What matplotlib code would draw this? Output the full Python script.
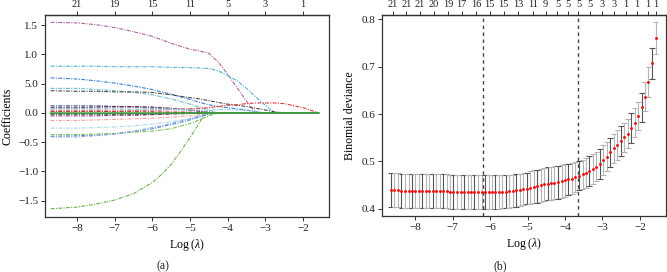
import numpy as np
import matplotlib
matplotlib.use("Agg")
import matplotlib.pyplot as plt

plt.rcParams['font.family'] = ['Liberation Serif', 'DejaVu Serif']
plt.rcParams['axes.unicode_minus'] = True
plt.rcParams['mathtext.fontset'] = 'custom'
plt.rcParams['mathtext.rm'] = 'Liberation Serif'
plt.rcParams['mathtext.it'] = 'Liberation Serif:italic'

# ---------------- Panel (a): coefficient paths ----------------
knots = [-8.7, -8.0, -7.5, -7.0, -6.5, -6.0, -5.5, -5.0, -4.75, -4.5,
         -4.25, -4.0, -3.75, -3.5, -3.25, -3.0, -2.75, -2.5, -2.0, -1.58]

coef_paths = {
    "v1":  [1.55, 1.54, 1.51, 1.46, 1.39, 1.31, 1.19, 1.09, 1.06, 1.02, 0.87, 0.66, 0.43, 0.20, 0.0, 0, 0, 0, 0, 0],
    "v2":  [0.80, 0.80, 0.80, 0.79, 0.79, 0.79, 0.78, 0.775, 0.77, 0.76, 0.72, 0.64, 0.55, 0.42, 0.27, 0.13, 0.0, 0, 0, 0],
    "v3":  [0.60, 0.58, 0.55, 0.51, 0.46, 0.40, 0.32, 0.23, 0.18, 0.14, 0.11, 0.09, 0.07, 0.05, 0.02, 0, 0, 0, 0, 0],
    "v4":  [0.42, 0.42, 0.40, 0.38, 0.35, 0.31, 0.24, 0.15, 0.10, 0.05, 0.0, 0, 0, 0, 0, 0, 0, 0, 0, 0],
    "v5":  [0.38, 0.37, 0.37, 0.36, 0.36, 0.35, 0.31, 0.26, 0.24, 0.21, 0.18, 0.15, 0.13, 0.11, 0.08, 0.05, 0.02, 0.0, 0, 0],
    "v6":  [0.12, 0.12, 0.12, 0.11, 0.10, 0.09, 0.07, 0.05, 0.03, 0.01, 0, 0, 0, 0, 0, 0, 0, 0, 0, 0],
    "v7":  [0.09, 0.09, 0.10, 0.11, 0.11, 0.10, 0.08, 0.05, 0.03, 0.01, 0, 0, 0, 0, 0, 0, 0, 0, 0, 0],
    "v8":  [0.02, 0.02, 0.03, 0.03, 0.04, 0.05, 0.06, 0.07, 0.08, 0.09, 0.11, 0.13, 0.14, 0.16, 0.17, 0.17, 0.17, 0.16, 0.09, 0.0],
    "v9":  [0.05, 0.05, 0.05, 0.05, 0.05, 0.04, 0.03, 0.02, 0.01, 0, 0, 0, 0, 0, 0, 0, 0, 0, 0, 0],
    "v11": [-0.05, -0.05, -0.05, -0.04, -0.04, -0.03, -0.02, -0.01, 0, 0, 0, 0, 0, 0, 0, 0, 0, 0, 0, 0],
    "v12": [-0.13, -0.13, -0.12, -0.11, -0.10, -0.09, -0.07, -0.05, -0.03, -0.01, 0, 0, 0, 0, 0, 0, 0, 0, 0, 0],
    "v13": [-0.26, -0.26, -0.25, -0.24, -0.22, -0.19, -0.15, -0.10, -0.06, -0.02, 0, 0, 0, 0, 0, 0, 0, 0, 0, 0],
    "v14": [-0.40, -0.39, -0.38, -0.36, -0.32, -0.27, -0.20, -0.12, -0.07, -0.02, 0, 0, 0, 0, 0, 0, 0, 0, 0, 0],
    "v15": [-0.37, -0.37, -0.36, -0.35, -0.33, -0.31, -0.27, -0.18, -0.12, -0.05, 0, 0, 0, 0, 0, 0, 0, 0, 0, 0],
    "v16": [-0.41, -0.41, -0.39, -0.36, -0.31, -0.25, -0.18, -0.10, -0.05, -0.01, 0, 0, 0, 0, 0, 0, 0, 0, 0, 0],
    "v18": [0.03, 0.03, 0.03, 0.02, 0.02, 0.02, 0.01, 0.0, 0, 0, 0, 0, 0, 0, 0, 0, 0, 0, 0, 0],
    "v19": [0.08, 0.08, 0.08, 0.09, 0.09, 0.08, 0.07, 0.06, 0.04, 0.02, 0, 0, 0, 0, 0, 0, 0, 0, 0, 0],
    "v20": [-0.02, -0.02, -0.02, -0.02, -0.02, -0.02, -0.01, 0, 0, 0, 0, 0, 0, 0, 0, 0, 0, 0, 0, 0],
    "v21": [0.07, 0.07, 0.07, 0.07, 0.06, 0.06, 0.06, 0.05, 0.05, 0.05, 0.06, 0.06, 0.05, 0.04, 0.02, 0, 0, 0, 0, 0],
}
# variable with the large negative path, read on its own finer grid
v17_knots = [-8.7, -8.0, -7.5, -7.0, -6.5, -6.0, -5.75, -5.5, -5.25, -5.0, -4.75, -4.6, -1.58]
v17_vals = [-1.64, -1.61, -1.56, -1.49, -1.38, -1.19, -1.05, -0.88, -0.66, -0.42, -0.17, 0.0, 0.0]
# variable lying on zero throughout
v10_vals = [-0.005, -0.005, -0.005, -0.005, -0.005, -0.005, -0.004, -0.003, -0.002, 0, 0, 0, 0, 0, 0, 0, 0, 0, 0, 0]

path_colors = {
    "v1": "#b0609f", "v2": "#4db4dc", "v3": "#3f7fd2", "v4": "#66bcc6",
    "v5": "#4a4a4a", "v6": "#2b3c8f", "v7": "#5b2a5e", "v8": "#e23a3a",
    "v9": "#f29090", "v10": "#3f9a3f", "v11": "#8a3a8a", "v12": "#f4a3a3",
    "v13": "#a6dbe8", "v14": "#4a92e0", "v15": "#7cbf5a", "v16": "#9ea4d8",
    "v17": "#6cb24c", "v18": "#a83030", "v19": "#9a9a9a", "v20": "#222222",
    "v21": "#8fd0e6",
}
coef_top_ticks = [-8, -7, -6, -5, -4, -3, -2]
coef_top_labels = ["21", "19", "15", "11", "5", "3", "1"]
coef_yticks = [1.5, 1.0, 0.5, 0.0, -0.5, -1.0, -1.5]
coef_yticklabels = ["1.5", "1.0", "5.0", "0.0", "\u22120.5", "\u22121.0", "\u22121.5"]

# ---------------- Panel (b): cross-validation curve ----------------
log_lambda = [
    -8.65, -8.56, -8.46, -8.37, -8.28, -8.18, -8.09, -8.00, -7.91, -7.81,
    -7.72, -7.63, -7.53, -7.44, -7.35, -7.25, -7.16, -7.07, -6.98, -6.88,
    -6.79, -6.70, -6.60, -6.51, -6.42, -6.32, -6.23, -6.14, -6.04, -5.95,
    -5.86, -5.77, -5.67, -5.58, -5.49, -5.39, -5.30, -5.21, -5.11, -5.02,
    -4.93, -4.84, -4.74, -4.65, -4.56, -4.46, -4.37, -4.28, -4.18, -4.09,
    -4.00, -3.91, -3.81, -3.72, -3.63, -3.53, -3.44, -3.35, -3.25, -3.16,
    -3.07, -2.98, -2.88, -2.79, -2.70, -2.60, -2.51, -2.42, -2.32, -2.23,
    -2.14, -2.05, -1.95, -1.86, -1.77, -1.67, -1.58]
cv_mean = [
    0.439, 0.439, 0.439, 0.438, 0.438, 0.438, 0.438, 0.438, 0.437, 0.437,
    0.437, 0.437, 0.437, 0.437, 0.437, 0.437, 0.437, 0.436, 0.436, 0.436,
    0.436, 0.436, 0.436, 0.436, 0.436, 0.435, 0.435, 0.435, 0.435, 0.435,
    0.435, 0.435, 0.436, 0.436, 0.437, 0.438, 0.439, 0.440, 0.442, 0.443,
    0.445, 0.447, 0.448, 0.450, 0.452, 0.453, 0.454, 0.455, 0.456, 0.458,
    0.460, 0.462, 0.464, 0.467, 0.470, 0.473, 0.476, 0.480, 0.484, 0.489,
    0.495, 0.503, 0.510, 0.519, 0.528, 0.535, 0.543, 0.551, 0.559, 0.571,
    0.582, 0.596, 0.614, 0.637, 0.668, 0.707, 0.761]
cv_sd = [
    0.036, 0.036, 0.036, 0.036, 0.036, 0.036, 0.036, 0.036, 0.036, 0.036,
    0.036, 0.036, 0.036, 0.036, 0.036, 0.036, 0.036, 0.036, 0.036, 0.036,
    0.036, 0.036, 0.036, 0.036, 0.036, 0.036, 0.036, 0.036, 0.036, 0.036,
    0.036, 0.036, 0.035, 0.035, 0.035, 0.034, 0.034, 0.033, 0.033, 0.033,
    0.034, 0.034, 0.035, 0.035, 0.035, 0.035, 0.035, 0.035, 0.035, 0.035,
    0.034, 0.033, 0.032, 0.031, 0.031, 0.031, 0.031, 0.031, 0.031, 0.031,
    0.031, 0.031, 0.031, 0.031, 0.031, 0.031, 0.031, 0.031, 0.031, 0.031,
    0.031, 0.030, 0.030, 0.031, 0.032, 0.033, 0.034]
lambda_min = -6.18
lambda_1se = -3.64
cv_top_ticks = [-8.60, -8.24, -7.87, -7.50, -7.13, -6.76, -6.38, -6.01, -5.64, -5.26,
                -4.86, -4.52, -4.20, -3.92, -3.64, -3.32, -3.01, -2.69, -2.38, -2.07,
                -1.78, -1.58]
cv_top_labels = ["21", "21", "21", "20", "19", "17", "16", "15", "15", "13",
                 "11", "9", "5", "5", "5", "5", "3", "3", "1", "1", "1", "1"]

# ---------------- Figure ----------------
W, H = 667, 272
fig = plt.figure(figsize=(W / 100, H / 100), dpi=100)

def box(x0, x1, ytop, ybot):
    return [x0 / W, 1 - ybot / H, (x1 - x0) / W, (ybot - ytop) / H]

fs = 8
fs_top = 7.5
frame_c = "#333333"
xlab = "Log ($\\mathit{\\lambda}$)"
xt = [-8, -7, -6, -5, -4, -3, -2]
xtl = ["\u22128", "\u22127", "\u22126", "\u22125", "\u22124", "\u22123", "\u22122"]

def style_axes(ax):
    for s in ax.spines.values():
        s.set_color(frame_c)
        s.set_linewidth(0.9)
    ax.tick_params(direction="out", length=3, width=0.7, colors=frame_c,
                   labelsize=fs, labelcolor="#222222", pad=2)

def top_axis(ax, ticks, labels):
    t = ax.secondary_xaxis("top")
    t.set_xticks(ticks)
    t.set_xticklabels(labels)
    t.tick_params(direction="out", length=3, width=0.7, colors=frame_c,
                  labelsize=fs_top, labelcolor="#222222", pad=1.5)
    t.spines["top"].set_color(frame_c)
    t.spines["top"].set_linewidth(0.9)

# Panel (a)
ax1 = fig.add_axes(box(45, 329, 15, 217))
ls = (0, (3.5, 1.2, 1, 1.2))
for name, vals in coef_paths.items():
    ax1.plot(knots, vals, color=path_colors[name], lw=0.8, ls=ls)
ax1.plot(v17_knots, v17_vals, color=path_colors["v17"], lw=0.8, ls=ls)
ax1.plot(knots, v10_vals, color=path_colors["v10"], lw=1.3)
ax1.set_xlim(-8.85, -1.31)
ax1.set_ylim(-1.78, 1.675)
ax1.set_xticks(xt)
ax1.set_xticklabels(xtl)
ax1.set_yticks(coef_yticks)
ax1.set_yticklabels(coef_yticklabels)
style_axes(ax1)
ax1.set_xlabel(xlab, fontsize=fs + 0.5, labelpad=3)
ax1.set_ylabel("Coefficients", fontsize=fs + 0.5, labelpad=3)
top_axis(ax1, coef_top_ticks, coef_top_labels)

# Panel (b)
ax2 = fig.add_axes(box(382, 666, 15, 216))
x = np.array(log_lambda)
m = np.array(cv_mean)
sd = np.array(cv_sd)
hw = 0.076
bar_cols = ["#555555" if (i % 3 == 0) else "#b5b5b5" for i in range(len(x))]
for i in range(len(x)):
    c = bar_cols[i]
    ax2.vlines(x[i], m[i] - sd[i], m[i] + sd[i], color=c, lw=0.8)
    ax2.hlines([m[i] - sd[i], m[i] + sd[i]], x[i] - hw, x[i] + hw, color=c, lw=0.8)
ax2.scatter(x, m, s=4.5, color="#ee1111", zorder=5, linewidths=0)
ax2.axvline(lambda_min, color="#444444", lw=1.0, ls=(0, (2.5, 2.5)))
ax2.axvline(lambda_1se, color="#444444", lw=1.0, ls=(0, (2.5, 2.5)))
ax2.set_xlim(-8.89, -1.3)
ax2.set_ylim(0.385, 0.809)
ax2.set_xticks(xt)
ax2.set_xticklabels(xtl)
ax2.set_yticks([0.4, 0.5, 0.6, 0.7, 0.8])
ax2.set_yticklabels(["0.4", "0.5", "0.6", "0.7", "0.8"])
style_axes(ax2)
ax2.set_xlabel(xlab, fontsize=fs + 0.5, labelpad=3)
ax2.set_ylabel("Binomial deviance", fontsize=fs + 0.5, labelpad=4)
top_axis(ax2, cv_top_ticks, cv_top_labels)

fig.text(163 / W, 1 - 266 / H, "(a)", ha="center", va="center", fontsize=fs + 0.5, color="#222222")
fig.text(500 / W, 1 - 266 / H, "(b)", ha="center", va="center", fontsize=fs + 0.5, color="#222222")

fig.savefig("out.png", dpi=100)
